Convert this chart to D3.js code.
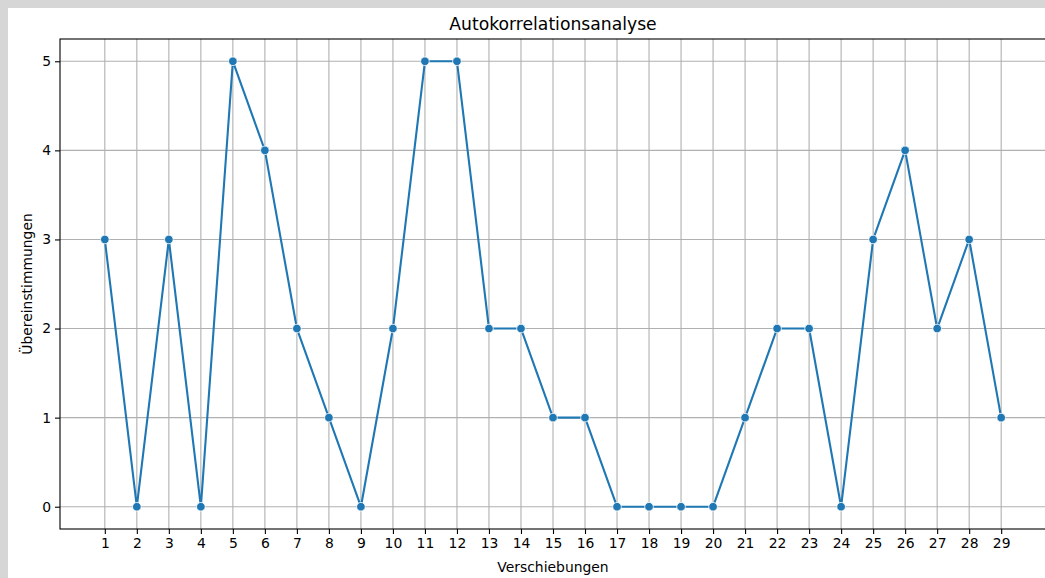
<!DOCTYPE html>
<html><head><meta charset="utf-8">
<script src="https://cdn.jsdelivr.net/npm/d3@7"></script>
<style>
html,body{margin:0;padding:0;background:#d6d6d6;overflow:hidden;}
svg{display:block;}
text{font-family:"DejaVu Sans",sans-serif;fill:#000;}
</style></head>
<body>
<script>
const shifts = [1,2,3,4,5,6,7,8,9,10,11,12,13,14,15,16,17,18,19,20,21,22,23,24,25,26,27,28,29];
const matches = [3,0,3,0,5,4,2,1,0,2,5,5,2,2,1,1,0,0,0,0,1,2,2,0,3,4,2,3,1];
const yTicks = [0,1,2,3,4,5];
const title = "Autokorrelationsanalyse";
const xLabel = "Verschiebungen";
const yLabel = "Übereinstimmungen";

const W = 1045, H = 578;
const svg = d3.select("body").append("svg").attr("width", W).attr("height", H);
svg.append("rect").attr("x", 8).attr("y", 8).attr("width", W).attr("height", H).attr("fill", "#fff");

const pL = 60, pR = 1046, pT = 39, pB = 529;
const x = d3.scaleLinear().domain([-0.4, 30.4]).range([pL, pR]);
const y = d3.scaleLinear().domain([-0.25, 5.25]).range([pB, pT]);

const g = svg.append("g");
g.selectAll(".gx").data(shifts).enter().append("line")
  .attr("x1", d => x(d)).attr("x2", d => x(d)).attr("y1", pT).attr("y2", pB)
  .attr("stroke", "#b0b0b0").attr("stroke-width", 1.1);
g.selectAll(".gy").data(yTicks).enter().append("line")
  .attr("x1", pL).attr("x2", pR).attr("y1", d => y(d)).attr("y2", d => y(d))
  .attr("stroke", "#b0b0b0").attr("stroke-width", 1.1);

const xAxis = d3.axisBottom(x).tickValues(shifts).tickSize(5).tickPadding(4).tickFormat(d3.format("d"));
const yAxis = d3.axisLeft(y).tickValues(yTicks).tickSize(5).tickPadding(4).tickFormat(d3.format("d"));
const gx = svg.append("g").attr("transform", `translate(0,${pB})`).call(xAxis);
const gy = svg.append("g").attr("transform", `translate(${pL},0)`).call(yAxis);
[gx, gy].forEach(a => {
  a.select(".domain").remove();
  a.selectAll(".tick line").attr("stroke", "#000").attr("stroke-width", 1.1);
  a.selectAll(".tick text").style("font-family", "DejaVu Sans").style("font-size", "13.9px").attr("fill", "#000");
});

svg.append("rect").attr("x", pL).attr("y", pT).attr("width", pR - pL).attr("height", pB - pT)
  .attr("fill", "none").attr("stroke", "#000").attr("stroke-width", 1.1);

const line = d3.line().x((d, i) => x(shifts[i])).y(d => y(d));
svg.append("path").datum(matches).attr("d", line).attr("fill", "none")
  .attr("stroke", "#1f77b4").attr("stroke-width", 2.1).attr("stroke-linejoin", "round");
svg.selectAll(".pt").data(matches).enter().append("circle")
  .attr("cx", (d, i) => x(shifts[i])).attr("cy", d => y(d)).attr("r", 4.3)
  .attr("fill", "#1f77b4").attr("stroke", "#fff").attr("stroke-width", 0.8);

svg.append("text").attr("x", (pL + pR) / 2).attr("y", 30).attr("text-anchor", "middle")
  .style("font-size", "17.2px").text(title);
svg.append("text").attr("x", (pL + pR) / 2).attr("y", 572).attr("text-anchor", "middle")
  .style("font-size", "13.9px").text(xLabel);
svg.append("text").attr("transform", `translate(32,${(pT + pB) / 2}) rotate(-90)`).attr("text-anchor", "middle")
  .style("font-size", "13.9px").text(yLabel);
</script>
</body></html>
